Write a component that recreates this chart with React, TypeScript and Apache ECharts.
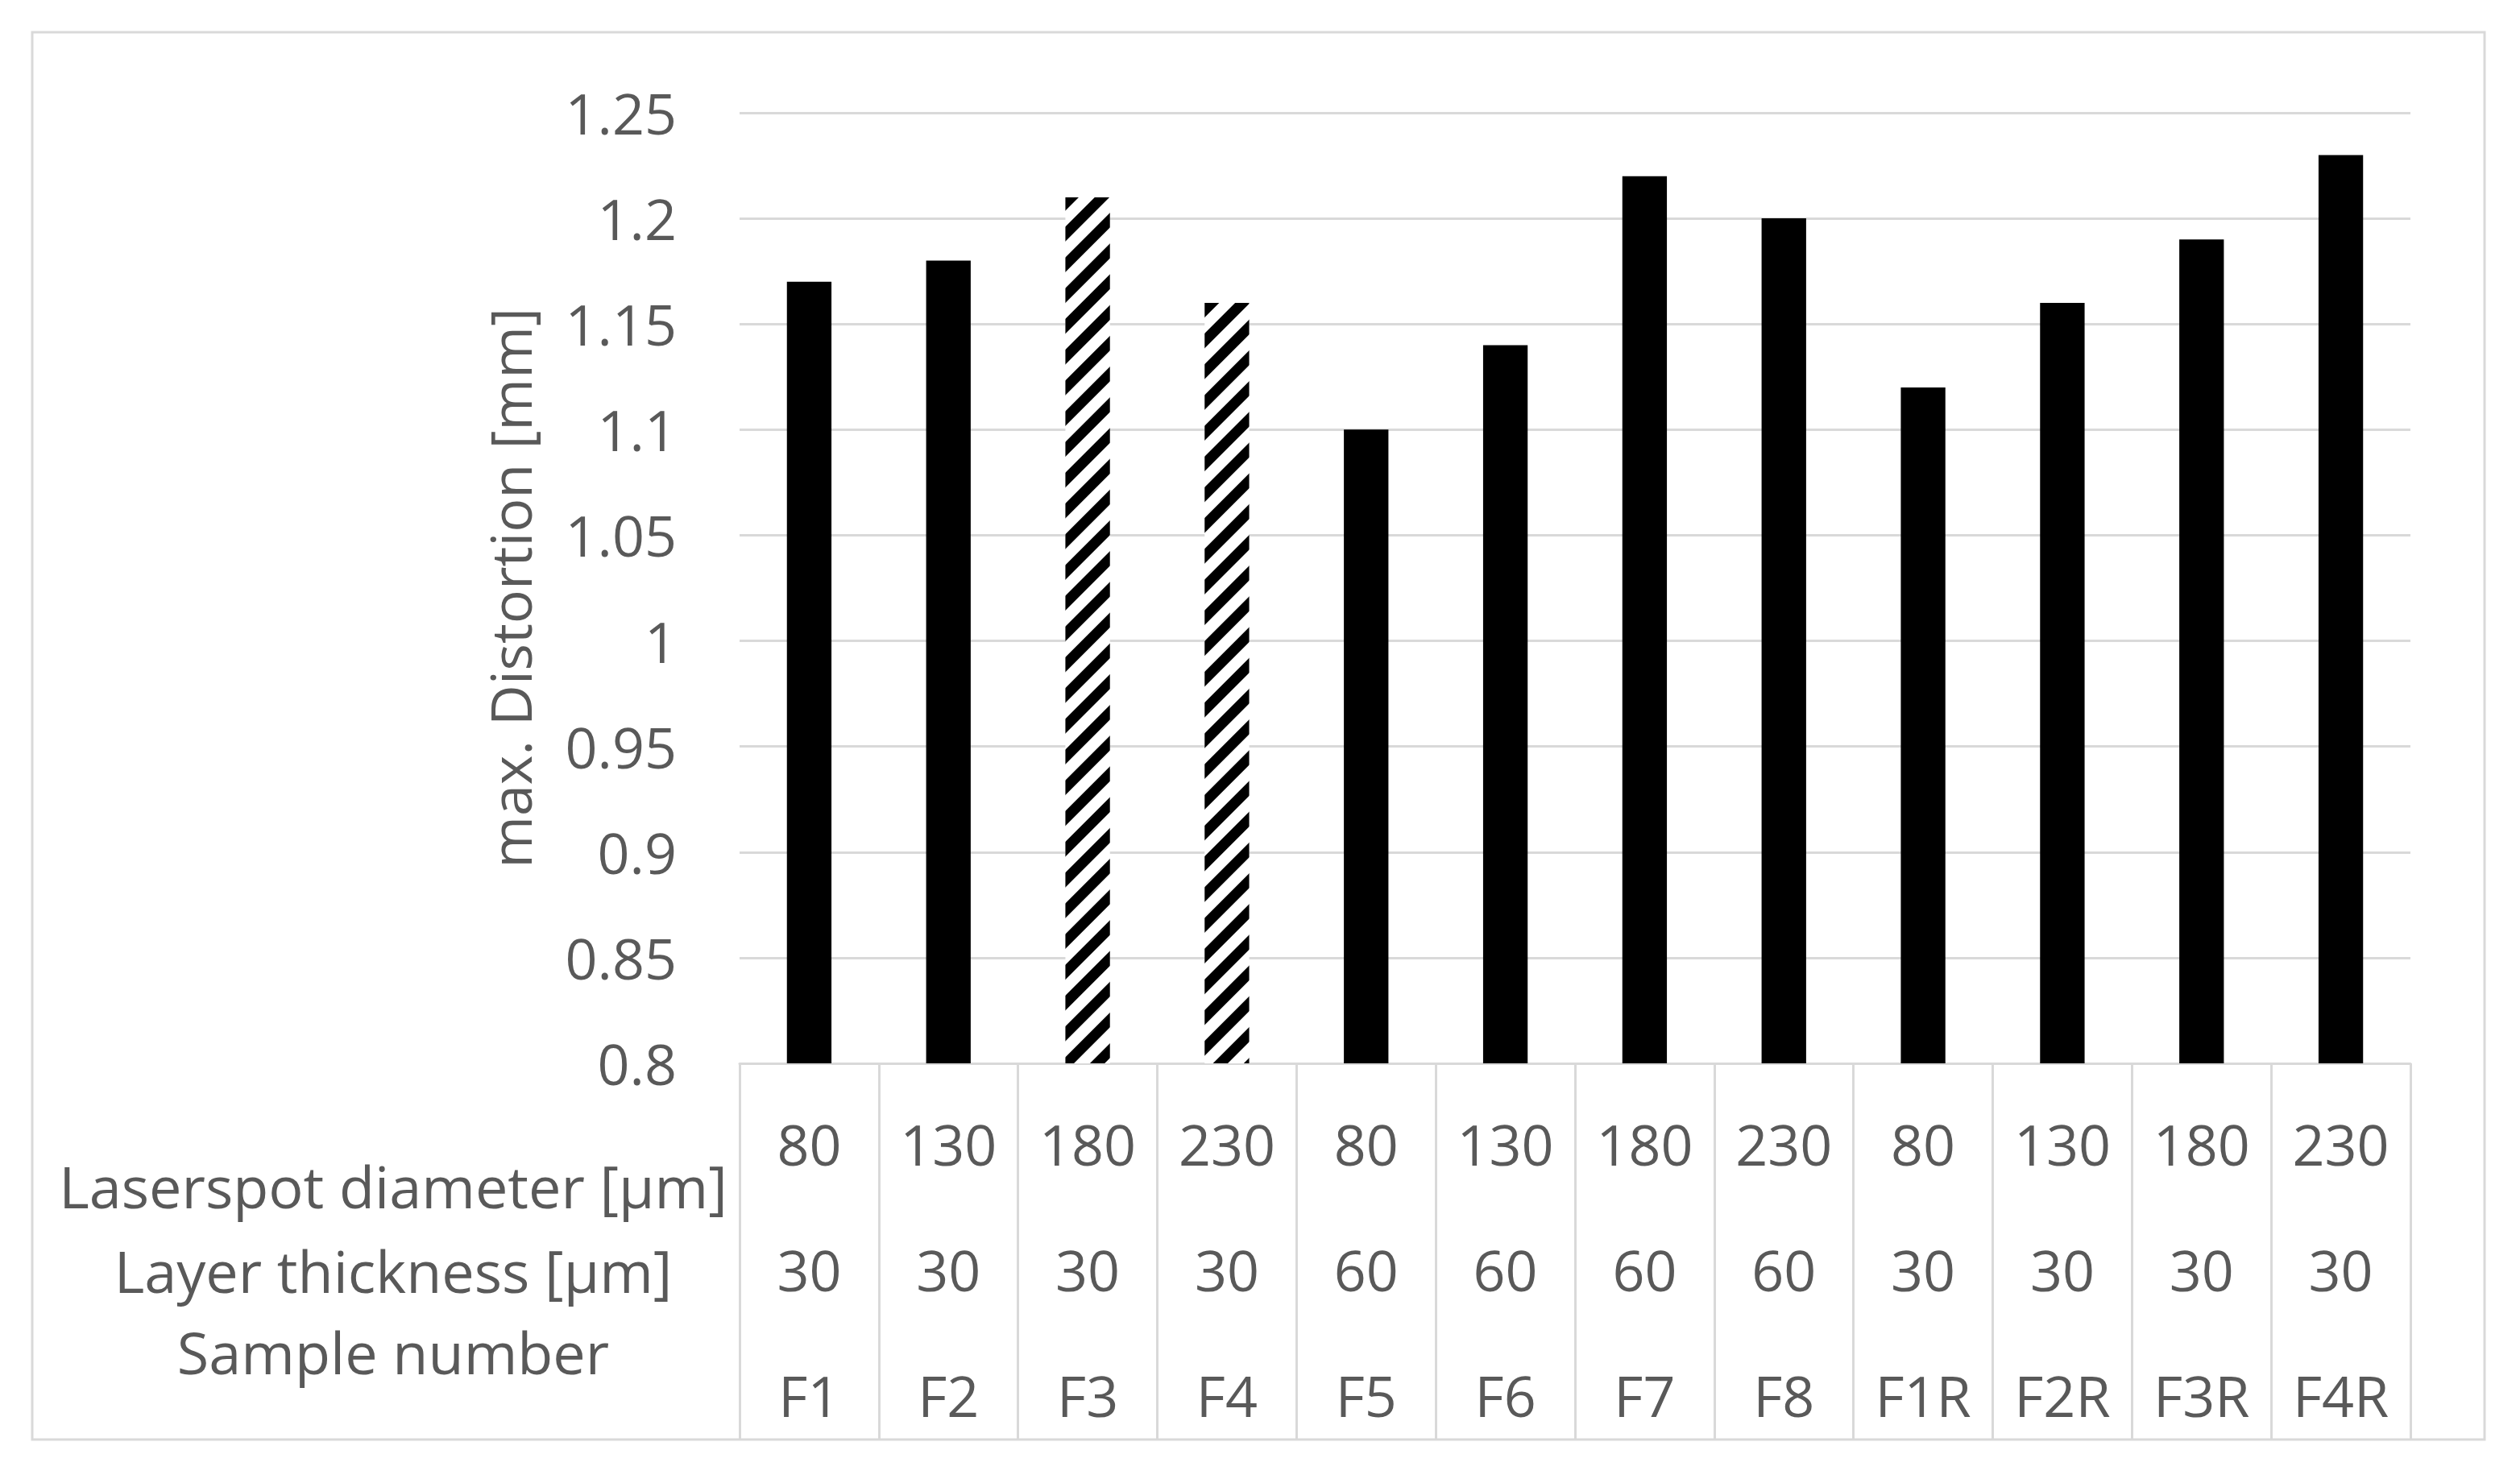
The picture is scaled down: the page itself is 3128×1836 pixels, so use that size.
import * as echarts from "echarts";
import { useEffect, useRef } from "react";

const samples = ["F1", "F2", "F3", "F4", "F5", "F6", "F7", "F8", "F1R", "F2R", "F3R", "F4R"];
const laserspot = ["80", "130", "180", "230", "80", "130", "180", "230", "80", "130", "180", "230"];
const layerThickness = ["30", "30", "30", "30", "60", "60", "60", "60", "30", "30", "30", "30"];
const distortion = [1.17, 1.18, 1.21, 1.16, 1.1, 1.14, 1.22, 1.2, 1.12, 1.16, 1.19, 1.23];
// F3 and F4 are drawn hatched
const hatched = ["F3", "F4"];
const rowLabels = ["Laserspot diameter [µm]", "Layer thickness [µm]", "Sample number"];

const FONT = "'Open Sans', sans-serif";
const TEXT = "#595959";
const LINE = "#d9d9d9";

export default function App() {
  const chartRef = useRef<HTMLDivElement>(null);

  useEffect(() => {
    if (!chartRef.current) return;
    const chart = echarts.init(chartRef.current, null, { renderer: "svg" });

    const solid = distortion.map((v, i) => (hatched.includes(samples[i]) ? null : v));
    const striped = distortion.map((v, i) => (hatched.includes(samples[i]) ? v : null));

    chart.setOption({
      animation: false,
      backgroundColor: "#fff",
      textStyle: { fontFamily: FONT },
      grid: { left: 918, right: 136, top: 140, bottom: 516 },
      xAxis: {
        type: "category",
        data: samples,
        axisLine: { lineStyle: { color: LINE, width: 3 } },
        axisTick: {
          show: true,
          interval: 0,
          alignWithLabel: false,
          length: 467,
          lineStyle: { color: LINE, width: 3 }
        },
        axisLabel: {
          interval: 0,
          margin: 22,
          formatter: (value: string, index: number) =>
            `{a|${laserspot[index]}}\n{a|${layerThickness[index]}}\n{a|${value}}`,
          rich: {
            a: { fontSize: 70, lineHeight: 156, color: TEXT, fontFamily: FONT }
          }
        }
      },
      yAxis: {
        type: "value",
        min: 0.8,
        max: 1.25,
        interval: 0.05,
        name: "max. Distortion [mm]",
        nameLocation: "middle",
        nameGap: 250,
        nameTextStyle: { fontSize: 70, color: TEXT, fontFamily: FONT },
        axisLine: { show: false },
        axisTick: { show: false },
        axisLabel: {
          margin: 78,
          fontSize: 70,
          color: TEXT,
          fontFamily: FONT,
          formatter: (v: number) => String(+v.toFixed(2))
        },
        splitLine: { lineStyle: { color: LINE, width: 3 } }
      },
      series: [
        {
          type: "bar",
          data: solid,
          barWidth: "32%",
          itemStyle: { color: "#000" }
        },
        {
          type: "bar",
          data: striped,
          barWidth: "32%",
          barGap: "-100%",
          itemStyle: {
            color: "#fff",
            decal: {
              symbol: "rect",
              symbolSize: 1,
              color: "#000",
              backgroundColor: "#fff",
              dashArrayX: [1, 0],
              dashArrayY: [13, 14],
              rotation: -Math.PI / 4
            }
          }
        }
      ],
      graphic: [
        {
          type: "rect",
          shape: { x: 40, y: 40, width: 3044, height: 1747 },
          style: { fill: "none", stroke: LINE, lineWidth: 3 },
          z: -1
        },
        ...rowLabels.map((t, i) => ({
          type: "text",
          x: 488,
          y: [1472, 1577, 1678][i],
          style: {
            text: t,
            fontSize: 72,
            fill: TEXT,
            fontFamily: FONT,
            textAlign: "center",
            textVerticalAlign: "middle"
          }
        }))
      ]
    });

    return () => {
      chart.dispose();
    };
  }, []);

  return (
    <div
      ref={chartRef}
      style={{ position: "absolute", left: 0, top: 0, width: 3128, height: 1836 }}
    />
  );
}
